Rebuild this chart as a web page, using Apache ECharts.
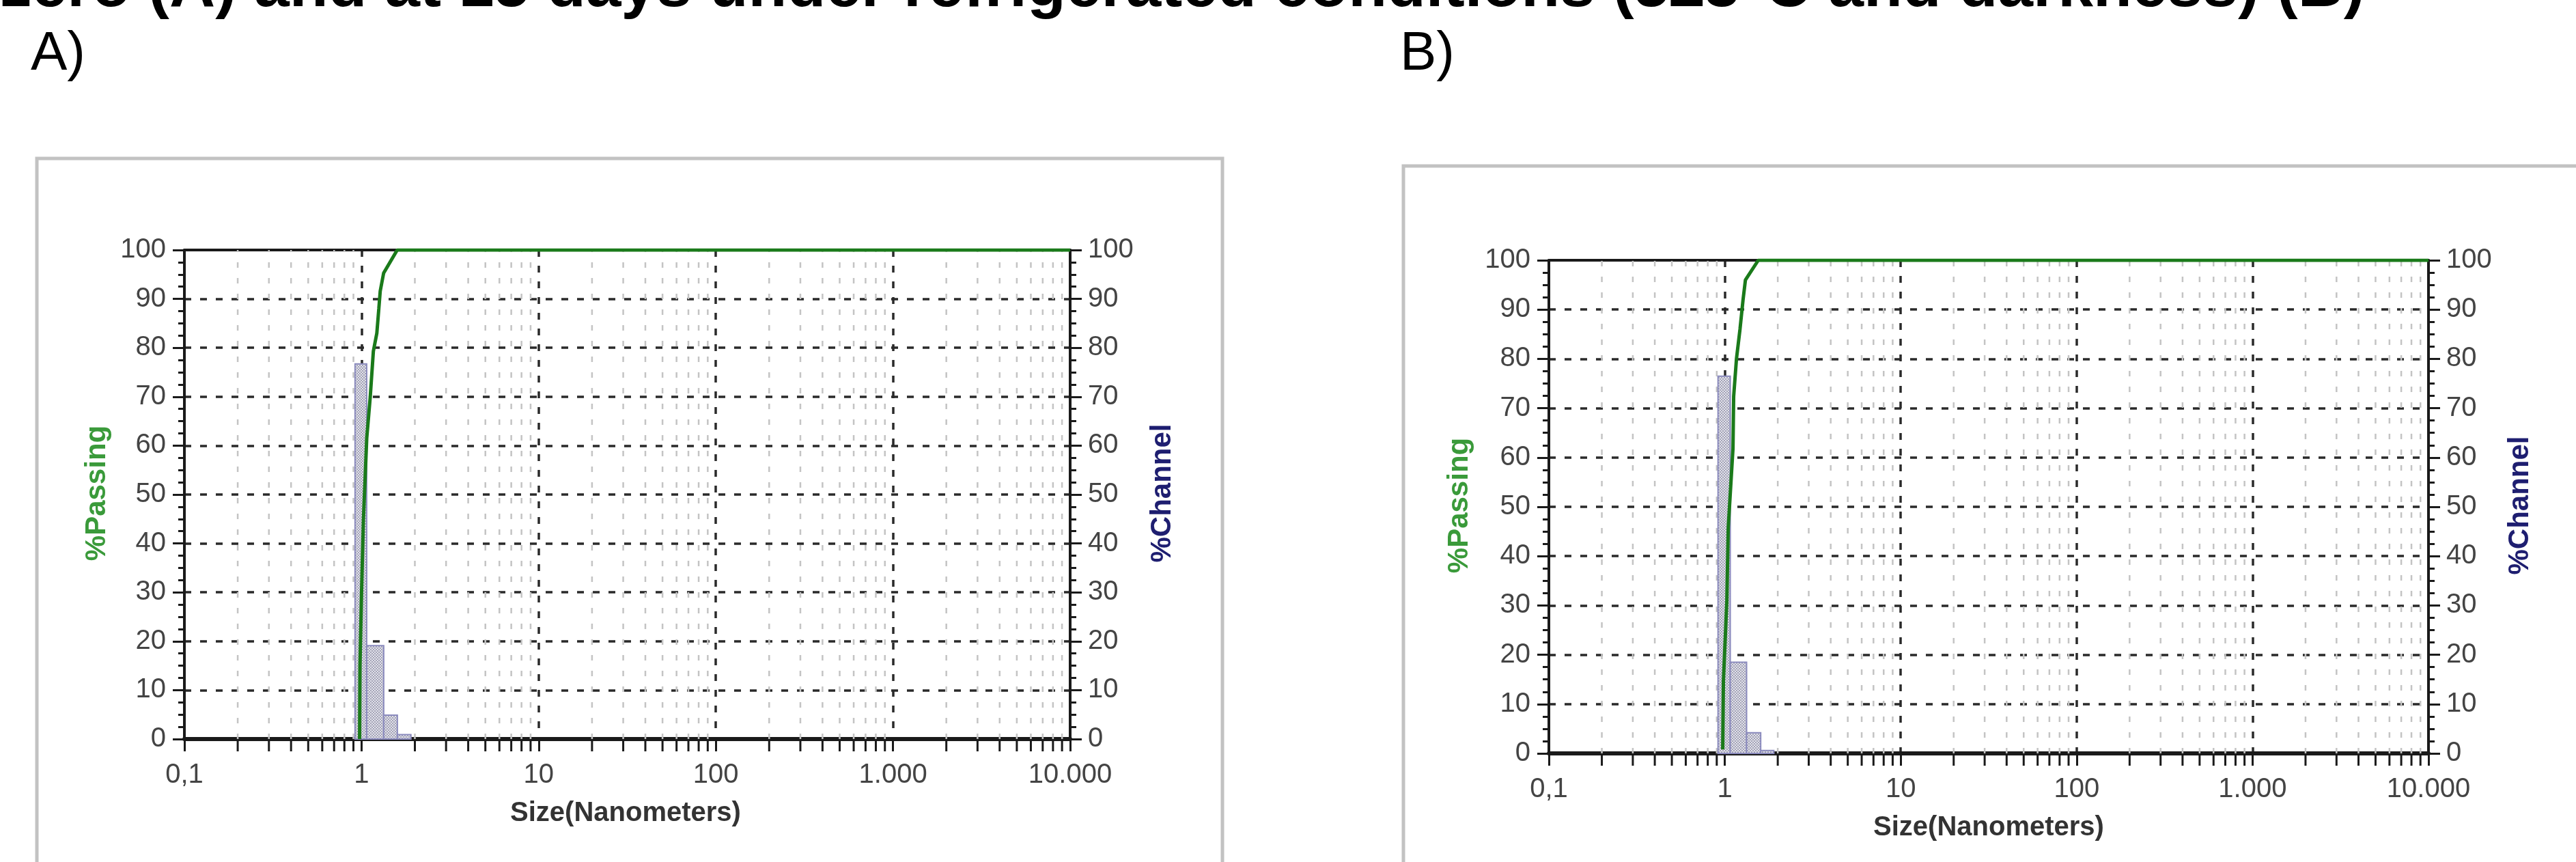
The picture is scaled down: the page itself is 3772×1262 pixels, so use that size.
<!DOCTYPE html>
<html>
<head>
<meta charset="utf-8">
<script src="https://cdn.jsdelivr.net/npm/echarts@6/dist/echarts.min.js"></script>
<style>
html,body{margin:0;padding:0;background:#fff;}
#chart{width:3772px;height:1262px;}
</style>
</head>
<body>
<div id="chart"></div>
<script>
// ---------- data ----------
const xTickLabels = ['0,1', '1', '10', '100', '1.000', '10.000'];
const minorXTicks = [0.2, 0.3, 0.4, 0.5, 0.6, 0.7, 0.8, 0.9,
                     2, 3, 4, 5, 6, 7, 8, 9,
                     20, 30, 40, 50, 60, 70, 80, 90,
                     200, 300, 400, 500, 600, 700, 800, 900,
                     2000, 3000, 4000, 5000, 6000, 7000, 8000, 9000];

// Panel A (time zero)
const channelEdgesA = [0.919, 1.069, 1.334, 1.593, 1.90];
const channelA      = [76.7, 19.1, 4.9, 0.9];
const passingSizeA  = [0.975, 0.98, 1.0, 1.025, 1.07, 1.12, 1.166, 1.22, 1.252, 1.275, 1.333, 1.59, 10000];
const passingA      = [0, 15, 30, 45, 61.5, 70, 79.3, 83, 88, 91.6, 95.3, 100, 100];

// Panel B (15 days, refrigerated)
const channelEdgesB = [0.915, 1.074, 1.33, 1.60, 1.90];
const channelB      = [76.5, 18.5, 4.2, 0.6];
const passingSizeB  = [0.973, 0.982, 1.027, 1.046, 1.113, 1.123, 1.165, 1.22, 1.27, 1.31, 1.55, 10000];
const passingB      = [0.8, 14.7, 30.9, 45.8, 61.8, 72.4, 80, 86, 92, 96, 100, 100];

// ---------- helpers ----------
function barData(edges, vals) {
  return vals.map((v, i) => [edges[i], edges[i + 1], v]);
}
function lineData(xs, ys) {
  return xs.map((x, i) => [x, ys[i]]);
}

// dithered fill like the original histogram bars
const patCanvas = document.createElement('canvas');
patCanvas.width = 4; patCanvas.height = 4;
(function () {
  const c = patCanvas.getContext('2d');
  c.fillStyle = '#e2e2ea'; c.fillRect(0, 0, 4, 4);
  c.fillStyle = '#a4a4b8';
  c.fillRect(0, 0, 2, 2); c.fillRect(2, 2, 2, 2);
})();
const barFill = { image: patCanvas, repeat: 'repeat' };

const FONT = '"Liberation Sans", Arial, sans-serif';
const labelColor = '#444';

const grids = [
  { left: 270, top: 366, width: 1297, height: 716 },
  { left: 2268, top: 381, width: 1288, height: 722 }
];

const xAxes = [];
const yAxes = [];
const series = [];

grids.forEach((g, gi) => {
  xAxes.push({
    type: 'log', logBase: 10, min: 0.1, max: 10000, splitNumber: 5,
    gridIndex: gi, position: 'bottom',
    axisLine: { show: true, onZero: false, lineStyle: { color: '#1a1a1a', width: 6 } },
    axisTick: { show: true, length: 18, lineStyle: { color: '#1a1a1a', width: 3 } },
    minorTick: { show: false },
    axisLabel: {
      show: true, margin: 33, color: labelColor, fontSize: 40, fontFamily: FONT,
      formatter: function (v, idx) { return xTickLabels[idx] !== undefined ? xTickLabels[idx] : ''; }
    },
    splitLine: { show: true, lineStyle: { color: '#2a2a2a', width: 3.5, type: [10, 13] } },
    minorSplitLine: { show: false }
  });
  xAxes.push({
    type: 'log', logBase: 10, min: 0.1, max: 10000, splitNumber: 5,
    gridIndex: gi, position: 'top',
    axisLine: { show: true, onZero: false, lineStyle: { color: '#1a1a1a', width: 4 } },
    axisTick: { show: false }, axisLabel: { show: false }, splitLine: { show: false }
  });
  yAxes.push({
    type: 'value', min: 0, max: 100, interval: 10, gridIndex: gi, position: 'left',
    axisLine: { show: true, onZero: false, lineStyle: { color: '#1a1a1a', width: 4 } },
    axisTick: { show: true, length: 17, lineStyle: { color: '#1a1a1a', width: 3 } },
    minorTick: { show: true, splitNumber: 4, length: 9, lineStyle: { color: '#1a1a1a', width: 3 } },
    axisLabel: { margin: 27, color: labelColor, fontSize: 40, fontFamily: FONT },
    splitLine: { show: true, lineStyle: { color: '#2a2a2a', width: 3.5, type: [10, 13] } }
  });
  yAxes.push({
    type: 'value', min: 0, max: 100, interval: 10, gridIndex: gi, position: 'right',
    axisLine: { show: true, onZero: false, lineStyle: { color: '#1a1a1a', width: 4 } },
    axisTick: { show: true, length: 17, lineStyle: { color: '#1a1a1a', width: 3 } },
    minorTick: { show: true, splitNumber: 4, length: 9, lineStyle: { color: '#1a1a1a', width: 3 } },
    axisLabel: { margin: 26, color: labelColor, fontSize: 40, fontFamily: FONT },
    splitLine: { show: false }
  });

  const xi = gi * 2;
  const yl = gi * 2;
  const yr = gi * 2 + 1;

  series.push({
    type: 'custom', xAxisIndex: xi, yAxisIndex: yl, clip: false, z: 1, silent: true,
    data: minorXTicks.map(v => [v]),
    encode: { x: 0 },
    renderItem: function (params, api) {
      const v = api.value(0);
      const p0 = api.coord([v, 0]);
      const p1 = api.coord([v, 100]);
      return {
        type: 'group',
        children: [
          { type: 'line', shape: { x1: p0[0], y1: p0[1], x2: p1[0], y2: p1[1] },
            style: { stroke: '#c4c4c4', lineWidth: 2.5, lineDash: [8, 15] } },
          { type: 'line', shape: { x1: p0[0], y1: p0[1], x2: p0[0], y2: p0[1] + 18 },
            style: { stroke: '#1a1a1a', lineWidth: 3 } }
        ]
      };
    }
  });

  series.push({
    type: 'custom', name: '%Channel', xAxisIndex: xi, yAxisIndex: yr, z: 3,
    data: gi === 0 ? barData(channelEdgesA, channelA) : barData(channelEdgesB, channelB),
    encode: { x: [0, 1], y: 2 },
    renderItem: function (params, api) {
      const p0 = api.coord([api.value(0), api.value(2)]);
      const p1 = api.coord([api.value(1), 0]);
      return {
        type: 'rect',
        shape: { x: p0[0], y: p0[1], width: p1[0] - p0[0], height: p1[1] - p0[1] },
        style: { fill: barFill, stroke: '#8a8abd', lineWidth: 2 }
      };
    }
  });

  series.push({
    type: 'line', name: '%Passing', xAxisIndex: xi, yAxisIndex: yl, z: 5,
    showSymbol: false, symbol: 'none', smooth: false,
    data: gi === 0 ? lineData(passingSizeA, passingA) : lineData(passingSizeB, passingB),
    lineStyle: { color: '#1a7a1a', width: 5 }
  });
});

const graphic = [
  { type: 'rect', shape: { x: 54, y: 232, width: 1736, height: 1100 },
    style: { fill: 'none', stroke: '#c2c2c2', lineWidth: 5 }, z: 0 },
  { type: 'rect', shape: { x: 2055, y: 243, width: 1760, height: 1100 },
    style: { fill: 'none', stroke: '#c2c2c2', lineWidth: 5 }, z: 0 },
  { type: 'text', x: 0, y: -17,
    style: { text: 'zero (A) and at 15 days under refrigerated conditions (5±3°C and darkness) (B)',
             font: 'bold 93px ' + FONT, fill: '#000', textAlign: 'left', textVerticalAlign: 'middle' } },
  { type: 'text', x: 45, y: 80,
    style: { text: 'A)', font: '80px ' + FONT, fill: '#000', textAlign: 'left', textVerticalAlign: 'middle' } },
  { type: 'text', x: 2050, y: 80,
    style: { text: 'B)', font: '80px ' + FONT, fill: '#000', textAlign: 'left', textVerticalAlign: 'middle' } },
  { type: 'text', x: 142, y: 722, rotation: Math.PI / 2,
    style: { text: '%Passing', font: 'bold 42px ' + FONT, fill: '#3a9a3a', textAlign: 'center', textVerticalAlign: 'middle' } },
  { type: 'text', x: 1702, y: 722, rotation: Math.PI / 2,
    style: { text: '%Channel', font: 'bold 42px ' + FONT, fill: '#1e1e70', textAlign: 'center', textVerticalAlign: 'middle' } },
  { type: 'text', x: 916, y: 1191,
    style: { text: 'Size(Nanometers)', font: 'bold 40px ' + FONT, fill: '#333', textAlign: 'center', textVerticalAlign: 'middle' } },
  { type: 'text', x: 2137, y: 740, rotation: Math.PI / 2,
    style: { text: '%Passing', font: 'bold 42px ' + FONT, fill: '#3a9a3a', textAlign: 'center', textVerticalAlign: 'middle' } },
  { type: 'text', x: 3690, y: 740, rotation: Math.PI / 2,
    style: { text: '%Channel', font: 'bold 42px ' + FONT, fill: '#1e1e70', textAlign: 'center', textVerticalAlign: 'middle' } },
  { type: 'text', x: 2912, y: 1212,
    style: { text: 'Size(Nanometers)', font: 'bold 40px ' + FONT, fill: '#333', textAlign: 'center', textVerticalAlign: 'middle' } }
];

const chart = echarts.init(document.getElementById('chart'), null, { renderer: 'canvas' });
chart.setOption({
  animation: false,
  backgroundColor: '#ffffff',
  grid: grids,
  xAxis: xAxes,
  yAxis: yAxes,
  series: series,
  graphic: graphic
});
</script>
</body>
</html>
